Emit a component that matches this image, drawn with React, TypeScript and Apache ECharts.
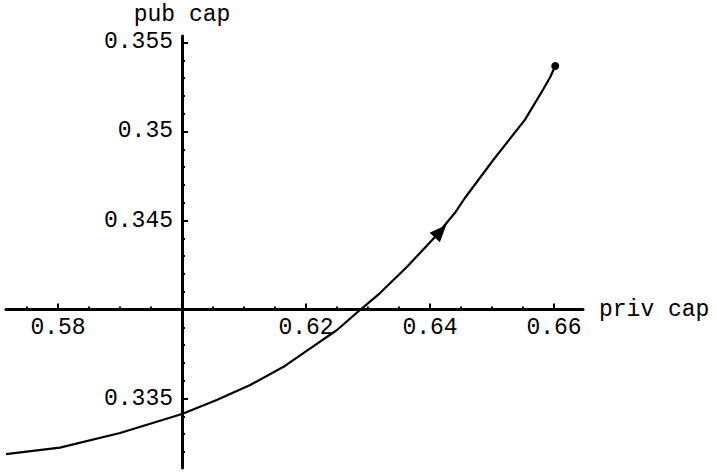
import React, { useEffect, useRef } from "react";
import * as echarts from "echarts";

// axes cross at this point
const X0 = 0.6;
const Y0 = 0.34;

// curve (priv cap, pub cap)
const privCap = [0.5716, 0.5803, 0.59, 0.6, 0.6056, 0.611, 0.6166, 0.6211, 0.625, 0.6287, 0.6319, 0.6363, 0.6408, 0.644, 0.6456, 0.6502, 0.6553, 0.6582, 0.6594, 0.6602];
const pubCap = [0.33188, 0.33224, 0.33306, 0.33413, 0.33492, 0.33576, 0.33683, 0.33791, 0.33885, 0.33997, 0.34091, 0.3424, 0.34407, 0.34542, 0.34625, 0.3484, 0.35065, 0.35233, 0.35306, 0.35368];

// direction arrow location on the curve
const arrowAt = [0.6417, 0.3444];

// axis extents
const xRange = [0.57161, 0.66468];
const yRange = [0.331096, 0.355365];

// ticks
const xMajorTicks = [0.58, 0.62, 0.64, 0.66];
const xMinorTicks = [0.575, 0.58, 0.585, 0.59, 0.595, 0.605, 0.61, 0.615, 0.62, 0.625, 0.63, 0.635, 0.64, 0.645, 0.65, 0.655, 0.66];
const yMajorTicks = [0.335, 0.345, 0.35, 0.355];
const yMinorTicks = [0.332, 0.333, 0.334, 0.335, 0.336, 0.337, 0.338, 0.339, 0.341, 0.342, 0.343, 0.344, 0.345, 0.346, 0.347, 0.348, 0.349, 0.35, 0.351, 0.352, 0.353, 0.354, 0.355];

const FONT = "'Liberation Mono', 'Courier New', monospace";
const FS = 23;

// plot frame in pixels
const W = 717, H = 472;
const PL = 6, PR = 583, PT = 36, PB = 468;

export default function App() {
  const ref = useRef<HTMLDivElement>(null);
  useEffect(() => {
    if (!ref.current) return;
    const chart = echarts.init(ref.current, undefined, { renderer: "svg" });
    const textStyle = { fontFamily: FONT, fontSize: FS, color: "#000" };
    const lineStyle = { color: "#000", width: 3 };
    const tickStyle = { color: "#000", width: 2 };
    const fmtX = (v: number) => String(+v.toFixed(3));
    const fmtY = (v: number) => String(+v.toFixed(4));

    // pixel position of crossing axes derived from the scales
    const yAxisX = PL + ((X0 - xRange[0]) / (xRange[1] - xRange[0])) * (PR - PL);
    const xAxisY = PT + ((yRange[1] - Y0) / (yRange[1] - yRange[0])) * (PB - PT);

    const hidden = { show: false, splitLine: { show: false } };
    const n = privCap.length;

    chart.setOption({
      animation: false,
      backgroundColor: "#fff",
      grid: [
        { left: PL, right: W - PR, top: PT, bottom: H - PB, containLabel: false, outerBoundsMode: "none" },
        { left: yAxisX, right: W - PR, top: PT, bottom: H - PB, containLabel: false, outerBoundsMode: "none" },
        { left: PL, right: W - PR, top: PT, bottom: H - xAxisY, containLabel: false, outerBoundsMode: "none" },
      ],
      xAxis: [
        { type: "value", gridIndex: 0, min: xRange[0], max: xRange[1], ...hidden },
        { type: "value", gridIndex: 1, min: X0, max: xRange[1], ...hidden },
        {
          type: "value",
          gridIndex: 2,
          min: xRange[0],
          max: xRange[1],
          position: "bottom",
          splitLine: { show: false },
          axisLine: { show: true, onZero: false, lineStyle },
          axisTick: { show: true, inside: true, length: 3, customValues: xMinorTicks, lineStyle: tickStyle },
          axisLabel: { show: false },
        },
        {
          type: "value",
          gridIndex: 2,
          min: xRange[0],
          max: xRange[1],
          position: "bottom",
          splitLine: { show: false },
          axisLine: { show: false, onZero: false },
          axisTick: { show: true, inside: true, length: 6, customValues: xMajorTicks, lineStyle: tickStyle },
          axisLabel: { show: true, customValues: xMajorTicks, formatter: fmtX, margin: 7, ...textStyle },
          name: "priv cap",
          nameLocation: "end",
          nameGap: 16,
          nameMoveOverlap: false,
          nameTextStyle: { ...textStyle },
        },
      ],
      yAxis: [
        { type: "value", gridIndex: 0, min: yRange[0], max: yRange[1], ...hidden },
        {
          type: "value",
          gridIndex: 1,
          min: yRange[0],
          max: yRange[1],
          position: "left",
          splitLine: { show: false },
          axisLine: { show: true, onZero: false, lineStyle },
          axisTick: { show: true, inside: true, length: 3, customValues: yMinorTicks, lineStyle: tickStyle },
          axisLabel: { show: false },
        },
        {
          type: "value",
          gridIndex: 1,
          min: yRange[0],
          max: yRange[1],
          position: "left",
          splitLine: { show: false },
          axisLine: { show: false, onZero: false },
          axisTick: { show: true, inside: true, length: 6, customValues: yMajorTicks, lineStyle: tickStyle },
          axisLabel: { show: true, customValues: yMajorTicks, formatter: fmtY, margin: 9, ...textStyle },
          name: "pub cap",
          nameLocation: "end",
          nameGap: 10,
          nameMoveOverlap: false,
          nameTextStyle: { ...textStyle, align: "center" },
        },
        { type: "value", gridIndex: 2, min: Y0, max: yRange[1], ...hidden },
      ],
      series: [
        {
          type: "line",
          xAxisIndex: 0,
          yAxisIndex: 0,
          data: privCap.map((x, i) => [x, pubCap[i]]),
          showSymbol: false,
          lineStyle: { color: "#000", width: 2.2 },
          z: 5,
          markPoint: {
            silent: true,
            data: [
              {
                coord: [arrowAt[0], arrowAt[1]],
                symbol: "triangle",
                symbolSize: [14, 17],
                symbolRotate: -43,
                itemStyle: { color: "#000" },
                label: { show: false },
              },
            ],
          },
        },
        {
          type: "scatter",
          xAxisIndex: 0,
          yAxisIndex: 0,
          data: [[privCap[n - 1], pubCap[n - 1]]],
          symbol: "circle",
          symbolSize: 8,
          z: 6,
          itemStyle: { color: "#000", opacity: 1 },
        },
      ],
    });
    return () => chart.dispose();
  }, []);
  return <div ref={ref} style={{ position: "absolute", left: 0, top: 0, width: W, height: H }} />;
}
